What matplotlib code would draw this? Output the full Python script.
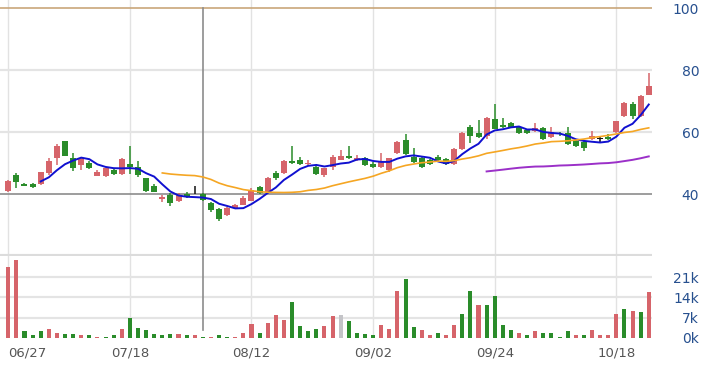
import numpy as np
import matplotlib
matplotlib.use("Agg")
import matplotlib.pyplot as plt

# daily candles, 06/27 .. 10/21 (index 0..79)
opens = [41.2, 46.2, 43.4, 43.3, 43.3, 46.8, 51.6, 57.2, 51.6, 49.5,
         50.0, 46.0, 46.0, 47.8, 46.4, 49.8, 48.7, 45.2, 42.7, 38.4,
         39.8, 37.9, 40.0, 40.3, 40.1, 37.3, 35.3, 33.4, 35.5, 36.7,
         38.0, 42.3, 40.9, 46.8, 47.0, 50.9, 51.1, 49.8, 48.7, 46.2,
         48.8, 51.2, 52.3, 51.0, 51.6, 49.9, 48.9, 47.8, 53.2, 57.5,
         52.1, 51.6, 51.0, 52.1, 51.3, 49.9, 54.6, 61.6, 59.9, 58.9,
         64.3, 62.5, 62.9, 61.8, 60.7, 60.5, 61.3, 58.6, 59.3, 59.9,
         57.3, 57.0, 57.9, 57.8, 58.6, 60.2, 65.3, 69.0, 65.2, 72.2]
highs = [44.5, 46.8, 43.6, 43.5, 47.3, 51.6, 56.1, 57.3, 53.2, 52.1,
         50.9, 47.8, 48.6, 48.2, 51.8, 55.7, 50.9, 45.4, 43.3, 39.8,
         40.5, 40.3, 40.9, 42.6, 40.4, 37.6, 35.6, 35.9, 37.0, 39.5,
         41.9, 42.7, 45.7, 47.4, 51.2, 55.7, 52.1, 51.1, 49.2, 48.6,
         52.8, 54.2, 55.5, 52.6, 52.1, 50.4, 53.2, 51.8, 57.2, 59.6,
         54.8, 52.4, 51.4, 52.6, 51.6, 54.8, 60.2, 62.5, 63.9, 65.0,
         69.2, 64.5, 63.3, 62.2, 61.0, 62.9, 61.8, 61.8, 60.0, 61.8,
         57.6, 57.3, 60.5, 58.7, 59.4, 60.6, 69.8, 69.9, 72.0, 79.0]
lows = [40.9, 41.9, 42.6, 41.9, 43.0, 46.2, 49.5, 52.3, 47.5, 47.8,
        48.1, 45.8, 45.7, 46.1, 46.2, 46.6, 45.7, 40.9, 40.6, 37.6,
        36.2, 37.6, 38.7, 40.0, 38.0, 34.4, 31.5, 33.1, 35.2, 36.4,
        37.7, 40.0, 40.6, 44.6, 46.7, 49.8, 49.4, 49.5, 46.3, 45.7,
        47.8, 51.0, 51.3, 50.7, 49.1, 48.6, 48.6, 47.3, 52.9, 52.7,
        50.2, 48.6, 49.4, 50.7, 49.4, 49.6, 54.3, 56.4, 58.2, 58.0,
        61.0, 61.5, 61.5, 59.6, 59.6, 60.2, 57.4, 58.3, 58.7, 55.9,
        55.4, 54.1, 57.6, 57.0, 57.4, 59.9, 65.0, 64.2, 64.9, 71.9]
closes = [44.3, 44.1, 42.8, 42.5, 47.1, 50.9, 55.6, 52.5, 48.4, 51.8,
          48.4, 47.2, 48.4, 46.4, 51.5, 48.8, 46.2, 41.2, 40.9, 39.0,
          37.2, 39.8, 39.2, 40.3, 38.3, 34.8, 32.2, 35.6, 36.4, 38.7,
          41.4, 40.5, 45.2, 45.2, 50.9, 50.0, 49.7, 50.2, 46.6, 48.4,
          52.2, 52.3, 51.6, 51.6, 49.4, 48.9, 50.8, 51.6, 56.9, 53.0,
          50.5, 48.9, 49.7, 51.0, 49.7, 54.6, 59.9, 58.8, 58.5, 64.7,
          61.2, 61.8, 61.8, 59.9, 59.9, 61.3, 57.7, 60.2, 59.0, 56.2,
          55.7, 55.1, 58.8, 57.8, 57.7, 63.6, 69.5, 65.2, 71.7, 74.9]
# volume in thousands of shares, with the colour code the site gives each bar
volume = [24.6, 26.8, 2.2, 0.9, 2.2, 3.0, 1.75, 1.3, 1.3, 0.8,
          0.8, 0.3, 0.2, 0.8, 3.0, 7.0, 3.5, 2.7, 1.3, 0.8,
          1.3, 1.3, 0.8, 0.8, 0.2, 0.3, 0.8, 0.3, 0.3, 1.75,
          4.8, 1.75, 5.25, 7.8, 6.2, 12.4, 4.0, 2.2, 3.0, 4.0,
          7.5, 7.8, 5.7, 1.75, 1.3, 0.8, 4.3, 3.0, 16.2, 20.2,
          3.85, 2.7, 0.8, 1.75, 0.8, 4.3, 8.3, 16.2, 11.4, 11.4,
          14.5, 4.3, 2.7, 1.75, 0.8, 2.2, 1.75, 1.75, 0.2, 2.2,
          0.8, 0.8, 2.7, 0.8, 0.8, 8.3, 10.0, 9.2, 8.75, 15.8]
vol_dir = "uuddduuddududduddddddudududduuuduuudddduuwdddduuudduuduudduddddududddduduuuudud"
# vol_dir for index 11/13 etc
date_ticks = [0, 15, 30, 45, 60, 75]
date_labels = ["06/27", "07/18", "08/12", "09/02", "09/24", "10/18"]
price_ticks = [40, 60, 80, 100]
vol_ticks = [0, 7, 14, 21]
vol_labels = ["0k", "7k", "14k", "21k"]
cross_idx = 24

RED = "#d6646a"
GREEN = "#2a8c2a"
GRAY = "#c4c4c8"
LABEL = "#27508f"

x = np.arange(len(closes))
o = np.array(opens)
c = np.array(closes)


def ma(vals, n):
    s = np.convolve(vals, np.ones(n) / n, mode="valid")
    return np.arange(n - 1, len(vals)), s


fig = plt.figure(figsize=(7.06, 3.68), dpi=100)
ax = fig.add_axes([0, 0.3035, 652 / 706, 0.6965])
axv = fig.add_axes([0, 0.0823, 652 / 706, 0.2212])

for a in (ax, axv):
    a.set_xlim(-1.02, 79.4)
    for s in a.spines.values():
        s.set_visible(False)
    for t in date_ticks:
        a.axvline(t, color="#e2e2e2", lw=1, zorder=0)

# price panel
ax.set_ylim(20, 102.7)
for p in (60, 80):
    ax.axhline(p, color="#e4e4e4", lw=1.6, zorder=0)
ax.axhline(100, color="#c9a77a", lw=1.2, zorder=0)
ax.axhline(40, color="#8c8c8c", lw=1.2, zorder=0)
ax.axhline(20, color="#dcdcdc", lw=3, zorder=0)
ax.axvline(cross_idx, ymin=0, ymax=(100 - 20) / 82.7, color="#8c8c8c", lw=1.2, zorder=0)

cols = np.where(c > o, RED, np.where(c < o, GREEN, "#111111"))
ax.vlines(x, lows, highs, colors=cols, lw=1.1, zorder=2)
body = np.maximum(np.abs(c - o), 0.25)
ax.bar(x, body, bottom=np.minimum(o, c), width=0.74, color=cols, zorder=3)

for n, col, lw in ((5, "#1010d0", 1.4), (20, "#f5a623", 1.2), (60, "#9b30c8", 1.4)):
    xi, m = ma(c, n)
    ax.plot(xi, m, color=col, lw=lw, zorder=4)

ax.yaxis.tick_right()
ax.set_yticks(price_ticks)
ax.set_yticklabels([str(p) for p in price_ticks], color=LABEL, fontsize=10, ha="right")
ax.tick_params(axis="y", length=0, pad=34)
ax.set_xticks([])

# volume panel
axv.set_ylim(0, 28.2)
for v in (7, 14, 21):
    axv.axhline(v, color="#e4e4e4", lw=1.6, zorder=0)
axv.axvline(cross_idx, ymin=0.1, ymax=1, color="#8c8c8c", lw=1.2, zorder=1)
vcols = [RED if d == "u" else GREEN if d == "d" else GRAY for d in vol_dir]
axv.bar(x, volume, width=0.5, color=vcols, zorder=2)
axv.yaxis.tick_right()
axv.set_yticks(vol_ticks)
axv.set_yticklabels(vol_labels, color=LABEL, fontsize=10, ha="right")
axv.tick_params(axis="y", length=0, pad=34)
axv.set_xticks(date_ticks)
axv.set_xticklabels(date_labels, color="#555555", fontsize=9.5)
axv.tick_params(axis="x", length=0, pad=6)
axv.get_xticklabels()[0].set_horizontalalignment("left")

fig.savefig("out.png", dpi=100)
